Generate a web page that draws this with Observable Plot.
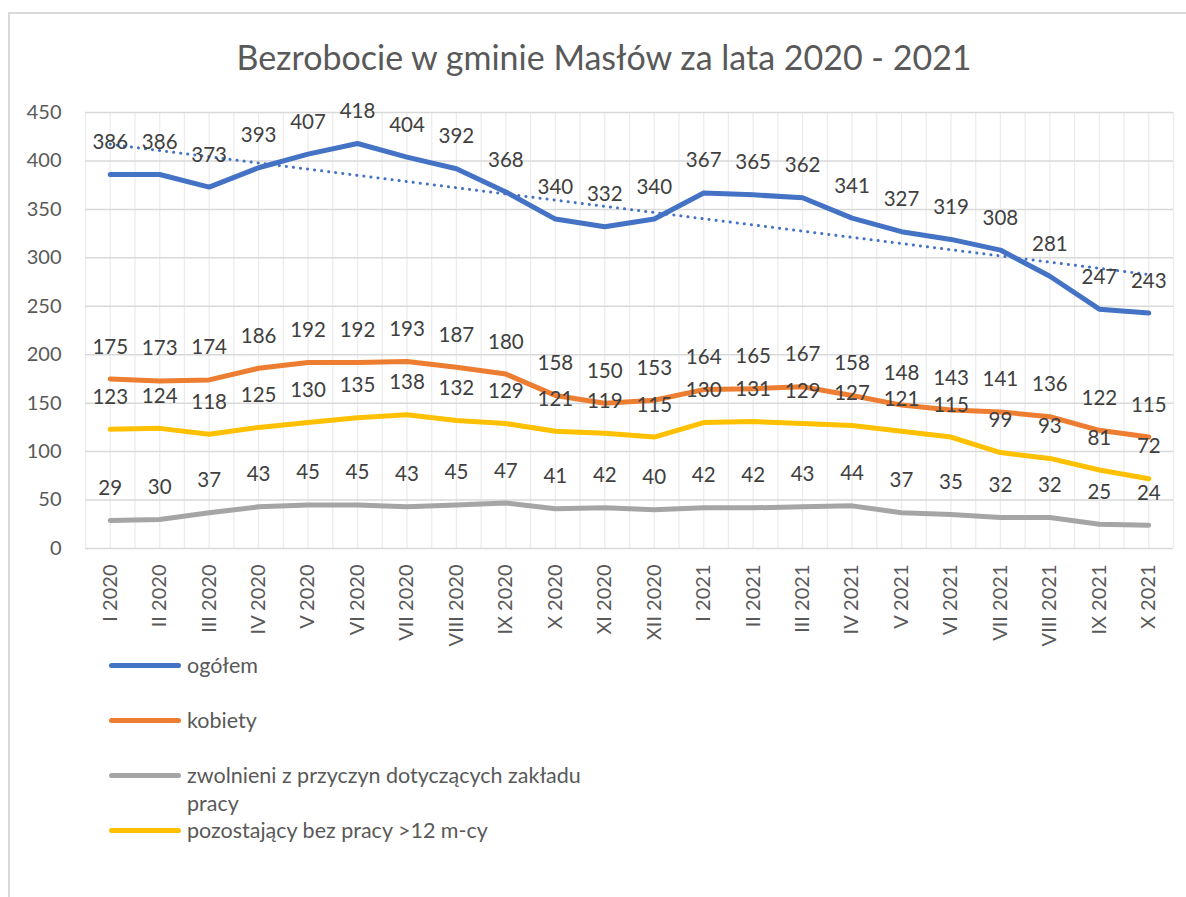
<!DOCTYPE html>
<html>
<head>
<meta charset="utf-8">
<script src="https://cdn.jsdelivr.net/npm/d3@7"></script>
<script src="https://cdn.jsdelivr.net/npm/@observablehq/plot@0.6"></script>
<style>
  html, body { margin: 0; padding: 0; background: #fff; }
  body { width: 1186px; height: 897px; position: relative; overflow: hidden; font-family: Lato, "Open Sans", sans-serif; }
  #frame { position: absolute; left: 8px; top: 12px; width: 2000px; height: 2000px; border-left: 2px solid #d9d9d9; border-top: 2px solid #d9d9d9; }
  #title { position: absolute; left: 604px; top: 36px; transform: translateX(-50%); white-space: nowrap; font-size: 34px; color: #595959; line-height: 42px; }
  #chart { position: absolute; left: 0; top: 85px; }
  #legend { position: absolute; left: 0; top: 0; }
  .item { position: absolute; left: 109px; display: flex; align-items: flex-start; }
  .sw { width: 72px; height: 5px; border-radius: 3px; margin-top: 12px; }
  .lab { margin-left: 6px; font-size: 21.5px; line-height: 28px; color: #595959; width: 420px; }
</style>
</head>
<body>
<div id="frame"></div>
<div id="title">Bezrobocie w gminie Masłów za lata 2020 - 2021</div>
<div id="chart"></div>
<div id="legend"></div>
<script>
const months = ["I 2020","II 2020","III 2020","IV 2020","V 2020","VI 2020","VII 2020","VIII 2020","IX 2020","X 2020","XI 2020","XII 2020",
                "I 2021","II 2021","III 2021","IV 2021","V 2021","VI 2021","VII 2021","VIII 2021","IX 2021","X 2021"];
const ogolem      = [386,386,373,393,407,418,404,392,368,340,332,340,367,365,362,341,327,319,308,281,247,243];
const kobiety     = [175,173,174,186,192,192,193,187,180,158,150,153,164,165,167,158,148,143,141,136,122,115];
const zwolnieni   = [29,30,37,43,45,45,43,45,47,41,42,40,42,42,43,44,37,35,32,32,25,24];
const pozostajacy = [123,124,118,125,130,135,138,132,129,121,119,115,130,131,129,127,121,115,99,93,81,72];
const seriesNames = ["ogółem","kobiety","zwolnieni z przyczyn dotyczących zakładu pracy","pozostający bez pracy >12 m-cy"];
const seriesColors = ["#4472C4","#ED7D31","#A5A5A5","#FFC000"];
const yTicks = [0,50,100,150,200,250,300,350,400,450];

const seriesValues = [ogolem, kobiety, zwolnieni, pozostajacy];
const rows = seriesValues.flatMap((vals, s) => vals.map((v, i) => ({i, month: months[i], value: v, series: seriesNames[s]})));
const ogRows = rows.filter(d => d.series === seriesNames[0]);
const gridXs = months.flatMap((m, i) => [i - 0.5, i]).concat([months.length - 0.5]);

const chart = Plot.plot({
  width: 1186,
  height: 570,
  marginTop: 27,
  marginLeft: 85,
  marginRight: 13,
  marginBottom: 107,
  style: {fontFamily: "Lato, 'Open Sans', sans-serif", fontSize: "20px", color: "#595959", background: "transparent"},
  x: {domain: [-0.5, months.length - 0.5], label: null},
  y: {domain: [0, 450], label: null},
  color: {domain: seriesNames, range: seriesColors},
  marks: [
    Plot.gridX(gridXs, {stroke: "#ececec", strokeOpacity: 1, strokeWidth: 1.3}),
    Plot.gridY(yTicks, {stroke: "#d9d9d9", strokeOpacity: 1, strokeWidth: 1.5}),
    Plot.axisY(yTicks, {tickSize: 0, tickPadding: 24, fill: "#595959", fontSize: 20}),
    Plot.axisX(d3.range(months.length), {tickSize: 0, tickPadding: 16, tickRotate: -90, tickFormat: i => months[i], fill: "#595959", fontSize: 20}),
    Plot.line(rows, {x: "i", y: "value", z: "series", stroke: "series", strokeWidth: 5, strokeLinecap: "round", strokeLinejoin: "round"}),
    Plot.linearRegressionY(ogRows, {x: "i", y: "value", ci: 0, stroke: "#4472C4", strokeWidth: 3, strokeDasharray: "0.1,7", strokeLinecap: "round"}),
    Plot.text(rows, {x: "i", y: "value", text: d => String(d.value), dy: -32, fill: "#404040", fontSize: 20.5, lineAnchor: "middle"})
  ]
});
document.getElementById("chart").appendChild(chart);

const legend = document.getElementById("legend");
seriesNames.forEach((name, k) => {
  const item = document.createElement("div");
  item.className = "item";
  item.style.top = (665 - 14 + 55 * k) + "px";
  const sw = document.createElement("div");
  sw.className = "sw";
  sw.style.background = seriesColors[k];
  const lab = document.createElement("div");
  lab.className = "lab";
  lab.textContent = name;
  item.appendChild(sw);
  item.appendChild(lab);
  legend.appendChild(item);
});
</script>
</body>
</html>
